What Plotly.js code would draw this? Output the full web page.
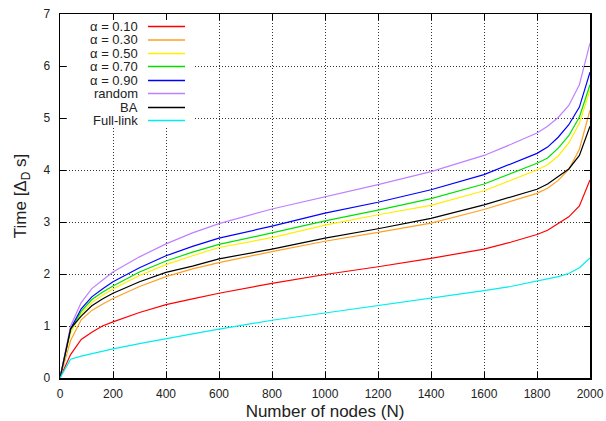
<!DOCTYPE html>
<html>
<head>
<meta charset="utf-8">
<script src="https://cdn.plot.ly/plotly-3.0.1.min.js"></script>
<style>html,body{margin:0;padding:0;background:#fff;}#chart{width:606px;height:421px;}</style>
</head>
<body>
<div id="chart"></div>
<script>
// Number of nodes (x values)
const nodes = [0,40,80,120,160,200,300,400,500,600,800,1000,1200,1400,1600,1700,1800,1840,1880,1920,1960,2000];

// Series values: Time [Δ_D s]
const alpha010 = [0,0.45,0.74,0.88,1.00,1.08,1.26,1.41,1.52,1.63,1.82,1.99,2.14,2.30,2.48,2.61,2.76,2.84,2.97,3.10,3.31,3.81];
const alpha030 = [0,0.72,1.12,1.30,1.42,1.53,1.76,1.95,2.10,2.22,2.43,2.63,2.80,2.98,3.24,3.40,3.55,3.65,3.80,4.01,4.40,5.15];
const alpha050 = [0,0.87,1.23,1.45,1.59,1.71,1.97,2.18,2.35,2.51,2.70,2.94,3.14,3.32,3.60,3.80,4.00,4.10,4.27,4.52,4.90,5.54];
const alpha070 = [0,0.92,1.28,1.51,1.65,1.77,2.04,2.25,2.42,2.57,2.79,3.02,3.23,3.45,3.73,3.93,4.13,4.23,4.42,4.66,5.02,5.64];
const alpha090 = [0,0.95,1.33,1.56,1.71,1.85,2.12,2.35,2.53,2.69,2.92,3.17,3.38,3.62,3.91,4.12,4.32,4.44,4.63,4.87,5.21,5.88];
const randomNet = [0,1.00,1.45,1.72,1.88,2.04,2.33,2.58,2.79,2.97,3.25,3.48,3.72,3.97,4.28,4.49,4.71,4.84,5.01,5.24,5.64,6.44];
const baNet = [0,0.95,1.19,1.39,1.52,1.63,1.85,2.03,2.15,2.29,2.48,2.69,2.87,3.07,3.33,3.48,3.63,3.73,3.87,4.02,4.28,4.84];
const fullLink = [0,0.36,0.42,0.47,0.51,0.56,0.66,0.76,0.85,0.94,1.11,1.25,1.39,1.53,1.68,1.76,1.86,1.90,1.95,2.01,2.12,2.31];

const seriesNames = ['α = 0.10','α = 0.30','α = 0.50','α = 0.70','α = 0.90','random','BA','Full-link'];
const seriesData = [alpha010, alpha030, alpha050, alpha070, alpha090, randomNet, baNet, fullLink];
const seriesColors = ['#ff0000','#ffa020','#ffee00','#00e000','#0000ff','#bf80ff','#000000','#00eeee'];

const xTicks = [0,200,400,600,800,1000,1200,1400,1600,1800,2000];
const yTicks = [0,1,2,3,4,5,6,7];

// Layout geometry (pixels)
const W = 606, H = 421;
const M = {l: 60, r: 16, t: 14, b: 43};
const pw = W - M.l - M.r, ph = H - M.t - M.b;
const px = v => (v - M.l) / pw;
const py = v => (H - M.b - v) / ph;

const traces = seriesData.map((ys, i) => ({
  x: nodes, y: ys, type: 'scatter', mode: 'lines',
  name: seriesNames[i], showlegend: false,
  line: {color: seriesColors[i], width: 1.2}
}));

// custom gnuplot-style key: text right-aligned, sample line to the right
const rowY = [26.5, 40, 53.5, 66.5, 80.5, 93.5, 107.5, 120.5];
const annotations = [];
const shapes = [{
  type: 'rect', xref: 'paper', yref: 'paper', layer: 'above',
  x0: px(68), x1: px(194), y0: py(128), y1: py(20),
  fillcolor: '#ffffff', line: {width: 0}
}];
seriesNames.forEach((name, i) => {
  annotations.push({
    xref: 'paper', yref: 'paper', x: px(140), y: py(rowY[i]),
    xanchor: 'right', yanchor: 'middle', showarrow: false,
    text: name, font: {family: 'Liberation Sans, Arial, sans-serif', size: 13, color: '#222'}
  });
  shapes.push({
    type: 'line', xref: 'paper', yref: 'paper', layer: 'above',
    x0: px(148), x1: px(185), y0: py(rowY[i]), y1: py(rowY[i]),
    line: {color: seriesColors[i], width: 1.5}
  });
});

const axisCommon = {
  showline: true, linecolor: '#000', linewidth: 1.5, mirror: 'ticks',
  ticks: 'inside', ticklen: 6, tickwidth: 1, tickcolor: '#000',
  showgrid: true, gridcolor: '#333', gridwidth: 1, griddash: '1px,2px',
  zeroline: false,
  tickfont: {family: 'Liberation Sans, Arial, sans-serif', size: 12, color: '#222'}
};

const layout = {
  width: W, height: H,
  margin: M,
  paper_bgcolor: '#fff', plot_bgcolor: '#fff',
  showlegend: false,
  xaxis: Object.assign({}, axisCommon, {
    range: [0, 2000], tickvals: xTicks, ticktext: xTicks.map(String),
    ticklabelstandoff: 4,
    title: {text: 'Number of nodes (N)', font: {family: 'Liberation Sans, Arial, sans-serif', size: 17, color: '#222'}, standoff: 6}
  }),
  yaxis: Object.assign({}, axisCommon, {
    range: [0, 7], tickvals: yTicks, ticktext: yTicks.map(String),
    ticklabelstandoff: 6,
    title: {text: 'Time [Δ<sub>D</sub> s]', font: {family: 'Liberation Sans, Arial, sans-serif', size: 17, color: '#222'}, standoff: 12}
  }),
  annotations: annotations,
  shapes: shapes
};

Plotly.newPlot('chart', traces, layout, {displayModeBar: false, staticPlot: true});
</script>
</body>
</html>
